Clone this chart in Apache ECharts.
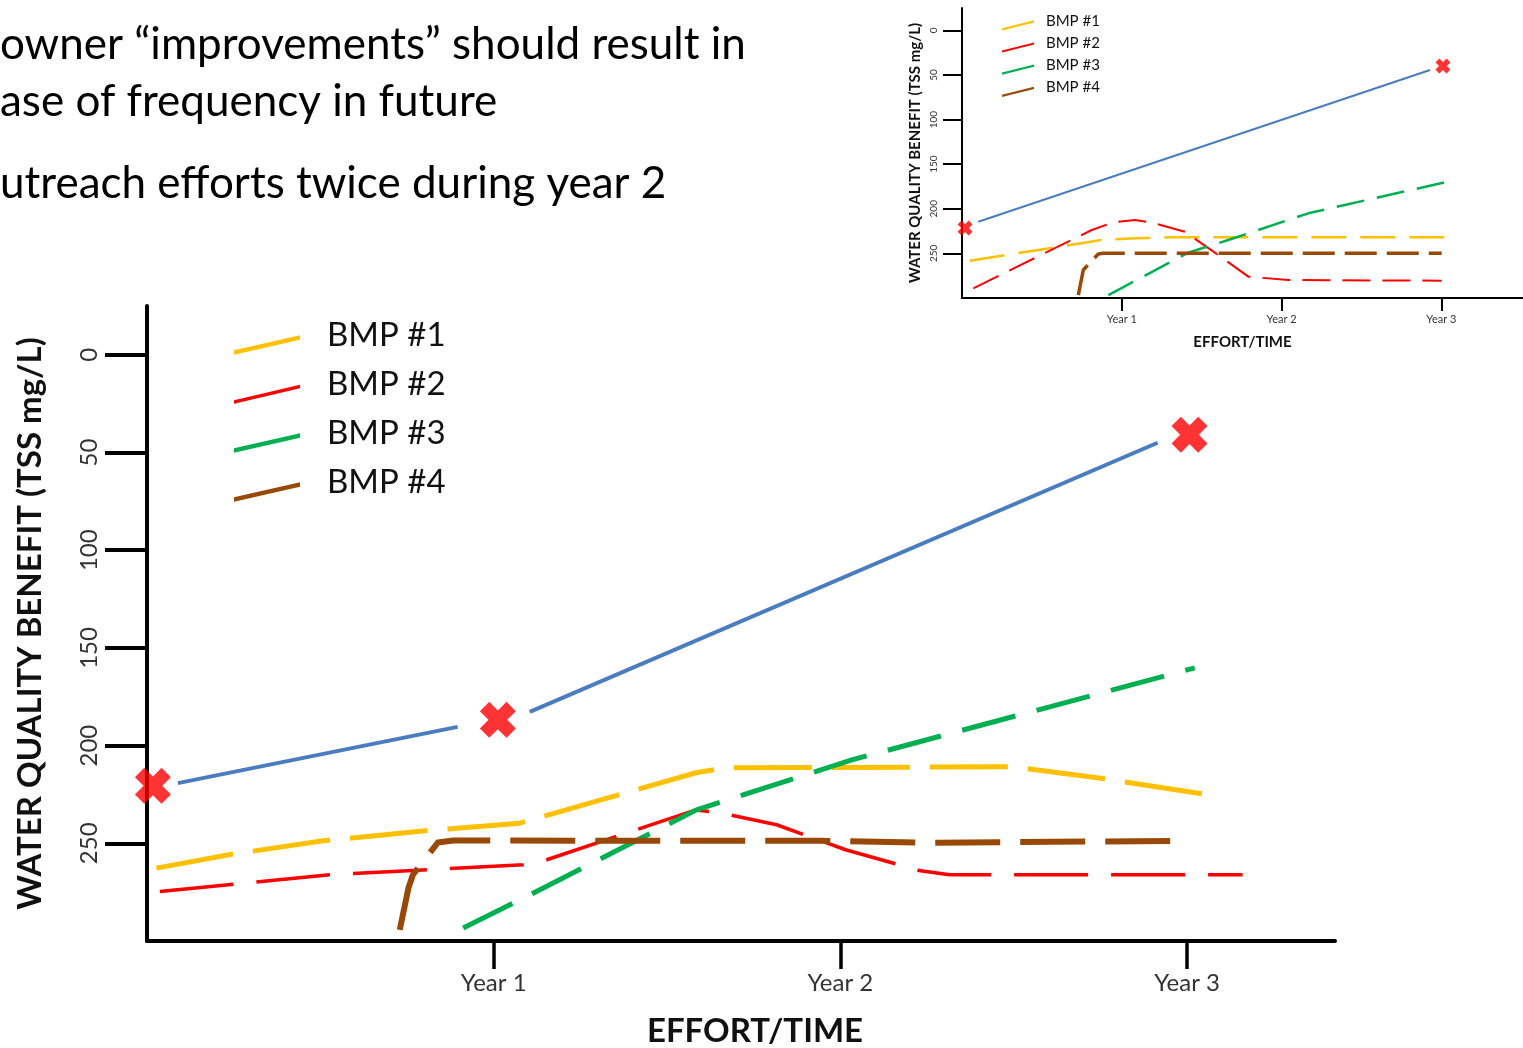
<!DOCTYPE html>
<html><head><meta charset="utf-8">
<script src="https://cdn.jsdelivr.net/npm/echarts@6/dist/echarts.min.js"></script>
<style>html,body{margin:0;padding:0;background:#fff}#c{width:1523px;height:1048px}</style>
</head><body><div id="c"></div>
<script>
// ---- text ----
const slideLines = ['owner \u201cimprovements\u201d should result in', 'ase of frequency in future', 'utreach efforts twice during year 2'];
const seriesNames = ['BMP #1', 'BMP #2', 'BMP #3', 'BMP #4'];
const xTickValues = [1, 2, 3];
const xTickLabels = ['Year 1', 'Year 2', 'Year 3'];
const yTickValues = [0, 50, 100, 150, 200, 250];
const xAxisName = 'EFFORT/TIME';
const yAxisName = 'WATER QUALITY BENEFIT (TSS mg/L)';

// ---- main chart data [effort, TSS] ----
const mainBmp1 = [[0.027,262.7],[0.248,255.5],[0.508,248.7],[0.815,243.4],[1.075,239.7],[1.583,213.9],[1.667,211.4],[2.497,210.8],[2.762,217.0],[3.045,224.7]];
const mainBmp2 = [[0.037,274.7],[0.527,266.1],[0.796,263.6],[1.085,261.0],[1.153,258.4],[1.583,232.9],[1.652,234.4],[1.816,240.5],[2.015,253.3],[2.231,264.1],[2.315,266.1],[3.160,266.1]];
const mainBmp3 = [[0.912,293.4],[1.066,279.8],[1.585,232.9],[2.033,207.3],[3.022,160.2]];
const mainBmp4 = [[0.729,294.3],[0.754,272.9],[0.767,266.1],[0.839,249.6],[0.883,248.6],[1.940,248.7],[2.257,249.7],[3.002,248.7]];
const mainTrendA = [[0.089,219.2],[0.896,190.4]];
const mainTrendB = [[1.104,182.7],[2.915,45.0]];
const mainMarks = [[0.017,220.6],[1.012,186.8],[3.007,40.9]];

// ---- inset chart data ----
const insetBmp1 = [[0.05,258.2],[0.874,235.0],[1.083,233.1],[1.312,232.0],[3.043,232.0]];
const insetBmp2 = [[0.071,289.1],[0.812,223.8],[0.95,215.0],[1.083,212.6],[1.2,216.0],[1.395,225.7],[1.604,251.8],[1.792,276.1],[2.042,279.9],[3.002,280.6]];
const insetBmp3 = [[0.916,296.7],[1.416,249.2],[1.666,235.0],[2.167,205.1],[3.085,167.8]];
const insetBmp4 = [[0.728,296.7],[0.759,268.6],[0.853,250.7],[0.884,249.9],[3.002,249.9]];
const insetTrend = [[0.102,214.5],[2.929,44.5]];
const insetMarks = [[0.019,221.6],[3.01,40.0]];

const colors = ['#ffc000', '#ff0000', '#00b050', '#984807'];
const trendColor = '#4a7dbf';
const markColor = '#ff0000';
const crossPath = 'path://M0,26L26,0L50,24L74,0L100,26L76,50L100,74L74,100L50,76L26,100L0,74L24,50Z';
const FONT = 'Lato';

function xLabel(v) { const i = xTickValues.indexOf(v); return i >= 0 ? xTickLabels[i] : ''; }

function lineS(name, data, gi, color, width, dash) {
  return { type: 'line', name: name, data: data, xAxisIndex: gi, yAxisIndex: gi,
    showSymbol: false, symbol: 'none', clip: false, smooth: false,
    color: color, lineStyle: { color: color, width: width, type: dash, cap: 'butt', join: 'round' }, z: 3 };
}
function markS(data, gi, size) {
  return { type: 'scatter', name: 'mark', data: data, xAxisIndex: gi, yAxisIndex: gi, clip: false,
    symbol: crossPath, symbolSize: size, itemStyle: { color: markColor }, z: 6 };
}

function xAx(gi, max, o) {
  return { gridIndex: gi, type: 'value', min: 0, max: max,
    axisLine: { onZero: false, lineStyle: { color: '#000', width: o.lw } },
    axisTick: { customValues: xTickValues, length: o.tl, lineStyle: { color: '#000', width: o.tw } },
    axisLabel: { customValues: xTickValues, formatter: xLabel, fontFamily: FONT, fontSize: o.fs, color: '#333', margin: o.lm },
    splitLine: { show: false },
    name: xAxisName, nameLocation: 'middle', nameGap: o.ng,
    nameTextStyle: { fontFamily: FONT, fontSize: o.nfs, fontWeight: 'bold', color: '#111', lineHeight: o.nlh, padding: o.npad } };
}
function yAx(gi, o) {
  return { gridIndex: gi, type: 'value', inverse: true, min: -25, max: 300,
    axisLine: { onZero: false, lineStyle: { color: '#000', width: o.lw } },
    axisTick: { customValues: yTickValues, length: o.tl, lineStyle: { color: '#000', width: o.tw } },
    axisLabel: { customValues: yTickValues, rotate: 90, fontFamily: FONT, fontSize: o.fs, color: '#333', margin: o.lm },
    splitLine: { show: false },
    name: yAxisName, nameLocation: 'middle', nameGap: o.ng,
    nameTextStyle: { fontFamily: FONT, fontSize: o.nfs, fontWeight: 'bold', color: '#111', lineHeight: o.nlh } };
}

// slanted legend keys; the leading move keeps the key below the text centre line
const mainIcons = ['path://M0,0M0,34L66,19L66,23.5L0,38.5Z', 'path://M0,0M0,35L66,19.5L66,23L0,38.5Z', 'path://M0,0M0,34L66,19L66,23.5L0,38.5Z', 'path://M0,0M0,34L66,19L66,23.5L0,38.5Z'];
const insetIcon = 'path://M0,0M0,17L32,9L32,11.2L0,19.2Z';

const option = {
  animation: false,
  backgroundColor: '#fff',
  textStyle: { fontFamily: FONT },
  grid: [
    { left: 147, top: 306, width: 1188, height: 635, outerBoundsMode: 'none', containLabel: false },
    { left: 962, top: 8, width: 561, height: 290, outerBoundsMode: 'none', containLabel: false }
  ],
  xAxis: [
    xAx(0, 3.4266, { lw: 4, tl: 28, tw: 3.5, fs: 24, lm: 30, ng: 72, nfs: 33, nlh: 36, npad: [0, 0, 0, 28] }),
    xAx(1, 3.511, { lw: 2, tl: 13, tw: 2, fs: 11, lm: 16, ng: 35, nfs: 15, nlh: 18, npad: 0 })
  ],
  yAxis: [
    yAx(0, { lw: 4, tl: 42, tw: 4, fs: 24, lm: 46, ng: 99, nfs: 33, nlh: 36 }),
    yAx(1, { lw: 2, tl: 19, tw: 2, fs: 10, lm: 23, ng: 38, nfs: 15, nlh: 18 })
  ],
  legend: [
    { orient: 'vertical', left: 234, top: 316.25, padding: 0, itemGap: 10.5, itemWidth: 66, itemHeight: 38.5,
      selectedMode: false, itemStyle: { borderWidth: 0 },
      textStyle: { fontFamily: FONT, fontSize: 33, color: '#111', lineHeight: 30, padding: [0, 0, 0, 22] },
      data: seriesNames.map((n, i) => ({ name: n, icon: mainIcons[i] })) },
    { orient: 'vertical', left: 1002, top: 11.2, padding: 0, itemGap: 3, itemWidth: 32, itemHeight: 19.2,
      selectedMode: false, itemStyle: { borderWidth: 0 },
      textStyle: { fontFamily: FONT, fontSize: 15, color: '#111', lineHeight: 15, padding: [0, 0, 0, 7] },
      data: seriesNames.map(n => ({ name: n, icon: insetIcon })) }
  ],
  graphic: slideLines.map((t, i) => ({
    type: 'text', x: 0, y: [45, 102, 184][i],
    style: { text: t, fontFamily: FONT, fontSize: 44, fill: '#000', verticalAlign: 'middle' }
  })),
  series: [
    lineS('Trend', mainTrendA, 0, trendColor, 4, 'solid'),
    lineS('Trend', mainTrendB, 0, trendColor, 4, 'solid'),
    lineS(seriesNames[0], mainBmp1, 0, colors[0], 5, [78, 20]),
    lineS(seriesNames[1], mainBmp2, 0, colors[1], 3.5, [74, 23]),
    lineS(seriesNames[2], mainBmp3, 0, colors[2], 5, [55, 22]),
    lineS(seriesNames[3], mainBmp4, 0, colors[3], 6, [65, 20]),
    markS(mainMarks, 0, 36),
    lineS('Trend', insetTrend, 1, trendColor, 2, 'solid'),
    lineS(seriesNames[0], insetBmp1, 1, colors[0], 2.5, [35, 14]),
    lineS(seriesNames[1], insetBmp2, 1, colors[1], 2, [28, 12]),
    lineS(seriesNames[2], insetBmp3, 1, colors[2], 2.5, [28, 13]),
    lineS(seriesNames[3], insetBmp4, 1, colors[3], 3.5, [32, 10]),
    markS(insetMarks, 1, 15)
  ]
};
const chart = echarts.init(document.getElementById('c'), null, { renderer: 'canvas' });
chart.setOption(option);
</script>
</body></html>
